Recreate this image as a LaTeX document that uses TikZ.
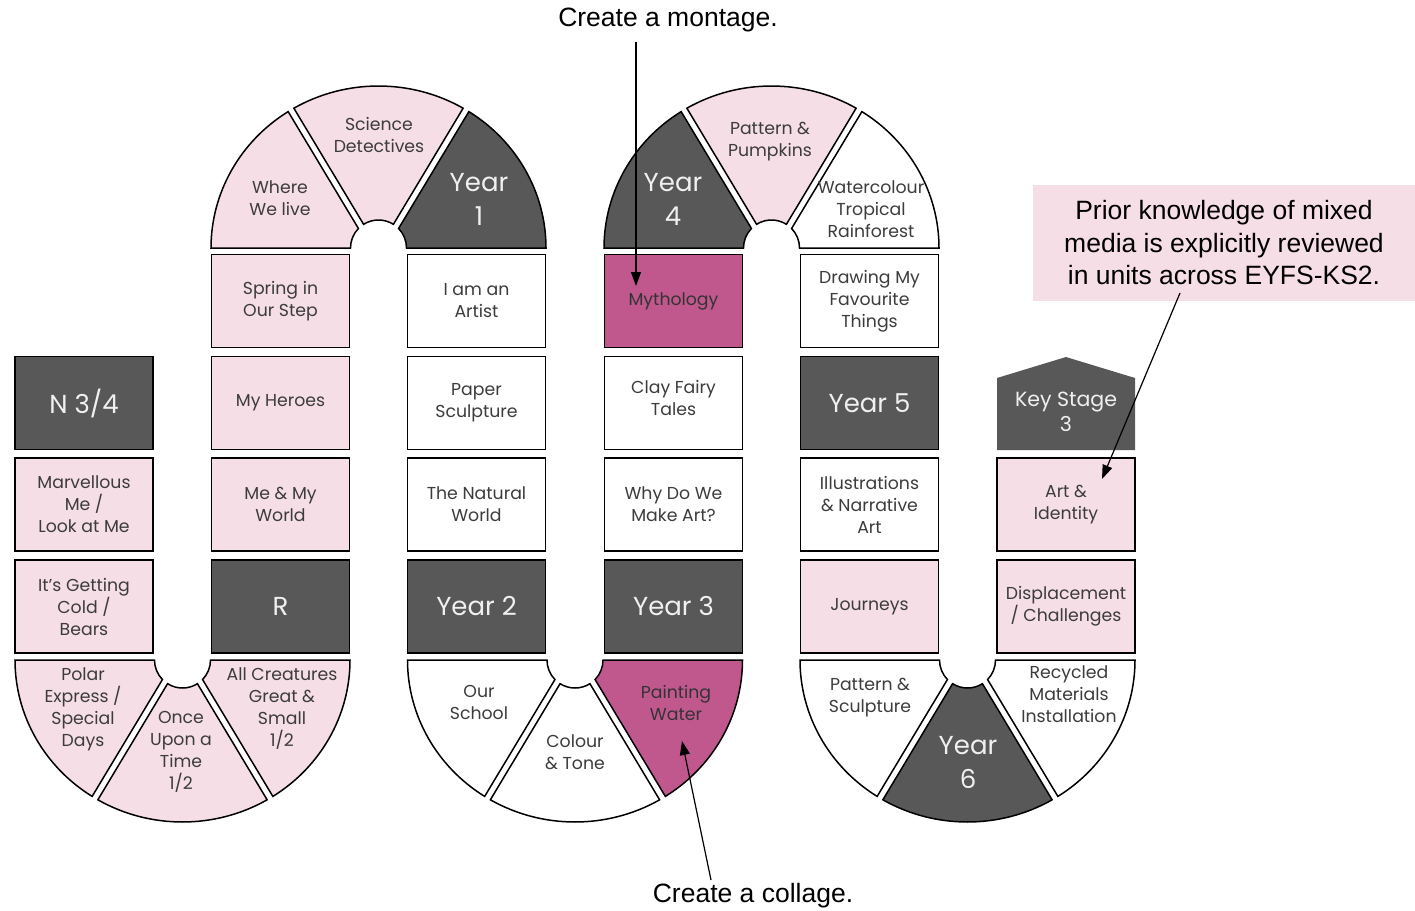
\documentclass[tikz,border=0pt]{standalone}
\usepackage{fontspec}
\setmainfont{Poppins}
\newfontfamily\annfont{Liberation Sans}
\usetikzlibrary{arrows.meta,calc}
\definecolor{pk}{RGB}{246,222,231}
\definecolor{mg}{RGB}{192,88,142}
\definecolor{dk}{RGB}{88,88,88}
\definecolor{tx}{RGB}{60,60,60}
\definecolor{lt}{RGB}{240,240,240}
\newcommand\ringpiece[7]{%
  \filldraw[piece,#7,shift={(#1,#2)}] (#3:167.5 and 162) arc[start angle=#3, end angle=#4, x radius=167.5, y radius=162] -- (#6:28) arc[start angle=#6, end angle=#5, radius=28] -- cycle;}
\begin{document}
\begin{tikzpicture}[x=1pt,y=-1pt,
  cell/.style={draw=black, line width=1.5pt, minimum width=138pt, minimum height=93pt, inner sep=0pt, align=center, font=\fontsize{17.3}{22}\selectfont, text=tx},
  pinkcell/.style={cell, fill=pk},
  whitecell/.style={cell, fill=white},
  magcell/.style={cell, fill=mg, text=black!80},
  darkcell/.style={cell, fill=dk, text=lt, font=\fontsize{26}{34}\selectfont},
  piece/.style={draw=black, line width=1.5pt},
  lbl/.style={align=center, inner sep=0pt, font=\fontsize{17.3}{22}\selectfont, text=tx},
  darklbl/.style={lbl, text=lt, font=\fontsize{26}{34}\selectfont},
  ann/.style={font=\annfont\fontsize{26.5}{32.5}\selectfont, inner sep=0pt, align=center, text=black},
  arr/.style={-{Triangle[length=14pt,width=10pt]}, line width=1.2pt, draw=black}]
\useasboundingbox (0,0) rectangle (1415,910);

% ---- arc pieces ----
% bottom A-B
\ringpiece{182.5}{660}{122.65}{180}{135.8}{180}{fill=pk}
\ringpiece{182.5}{660}{59.65}{120.35}{57.8}{122.2}{fill=pk}
\ringpiece{182.5}{660}{0}{57.35}{0}{44.2}{fill=pk}
% top B-C
\ringpiece{378.5}{248}{180}{237.35}{180}{224.2}{fill=pk}
\ringpiece{378.5}{248}{239.65}{300.35}{237.8}{302.2}{fill=pk}
\ringpiece{378.5}{248}{302.65}{360}{315.8}{360}{fill=dk}
% bottom C-D
\ringpiece{575}{660}{122.65}{180}{135.8}{180}{fill=white}
\ringpiece{575}{660}{59.65}{120.35}{57.8}{122.2}{fill=white}
\ringpiece{575}{660}{0}{57.35}{0}{44.2}{fill=mg}
% top D-E
\ringpiece{771.5}{248}{180}{237.35}{180}{224.2}{fill=dk}
\ringpiece{771.5}{248}{239.65}{300.35}{237.8}{302.2}{fill=pk}
\ringpiece{771.5}{248}{302.65}{360}{315.8}{360}{fill=white}
% bottom E-F
\ringpiece{967.5}{660}{122.65}{180}{135.8}{180}{fill=white}
\ringpiece{967.5}{660}{59.65}{120.35}{57.8}{122.2}{fill=dk}
\ringpiece{967.5}{660}{0}{57.35}{0}{44.2}{fill=white}

% ---- piece labels ----
\node[lbl] (polar) at (83,709) {Polar\\Express /\\Special\\Days};
\node[lbl] (once) at (181,752) {Once\\Upon a\\Time\\1/2};
\node[lbl] (creatures) at (282,709) {All Creatures\\Great \&\\Small\\1/2};
\node[lbl] (where) at (280,198) {Where\\We live};
\node[lbl] (science) at (379,135) {Science\\Detectives};
\node[darklbl] (y1) at (479,199) {Year\\1};
\node[darklbl] (y4) at (673,199) {Year\\4};
\node[lbl] (pumpkins) at (770,142) {Pattern \&\\Pumpkins};
\node[lbl] (watercolour) at (871,209) {Watercolour\\Tropical\\Rainforest};
\node[lbl] (school) at (479,702) {Our\\School};
\node[lbl] (colour) at (575,752) {Colour\\\& Tone};
\node[lbl, text=black!80] (painting) at (676,703) {Painting\\Water};
\node[lbl] (patsculpt) at (870,698) {Pattern \&\\Sculpture};
\node[darklbl] (y6) at (968,762) {Year\\6};
\node[lbl] (recycled) at (1069,694) {Recycled\\Materials\\Installation};

% ---- boxes ----
% column A
\node[darkcell] (n34) at (84,403) {N 3/4};
\node[pinkcell] (marv) at (84,504.5) {Marvellous\\Me /\\Look at Me};
\node[pinkcell] (cold) at (84,606.5) {It's Getting\\Cold /\\Bears};
% column B
\node[pinkcell] (spring) at (280.5,301) {Spring in\\Our Step};
\node[pinkcell] (heroes) at (280.5,403) {My Heroes};
\node[pinkcell] (meworld) at (280.5,504.5) {Me \& My\\World};
\node[darkcell] (rec) at (280.5,606.5) {R};
% column C
\node[whitecell] (artist) at (476.5,301) {I am an\\Artist};
\node[whitecell] (paper) at (476.5,403) {Paper\\Sculpture};
\node[whitecell] (natural) at (476.5,504.5) {The Natural\\World};
\node[darkcell] (y2) at (476.5,606.5) {Year 2};
% column D
\node[magcell] (myth) at (673.5,301) {Mythology};
\node[whitecell] (clay) at (673.5,403) {};
\node[lbl] (claytext) at (673.5,398) {Clay Fairy\\Tales};
\node[whitecell] (why) at (673.5,504.5) {Why Do We\\Make Art?};
\node[darkcell] (y3) at (673.5,606.5) {Year 3};
% column E
\node[whitecell] (drawing) at (869.5,301) {Drawing My\\Favourite\\Things};
\node[darkcell] (y5) at (869.5,403) {Year 5};
\node[whitecell] (illus) at (869.5,504.5) {Illustrations\\\& Narrative\\Art};
\node[pinkcell] (journeys) at (869.5,606.5) {Journeys};
% column F
\fill[dk] (997,450) -- (997,378) -- (1066,357) -- (1135,378) -- (1135,450) -- cycle;
\node[lbl, text=lt, font=\fontsize{20.5}{25}\selectfont] (ks3) at (1066,412) {Key Stage\\3};
\node[pinkcell] (identity) at (1066,504.5) {Art \&\\Identity};
\node[pinkcell] (displace) at (1066,606.5) {Displacement\\/ Challenges};

% ---- annotations ----
\node[ann] (montage) at (668,20) {Create a montage.};
\node[ann] (collage) at (753,896) {Create a collage.};
\node[ann, fill=pk, minimum width=382pt, minimum height=116pt] (callout) at (1224,243) {Prior knowledge of mixed\\media is explicitly reviewed\\in units across EYFS-KS2.};
\coordinate (mtip) at (636,286);
\coordinate (ctip) at (682,741);
\coordinate (cstart) at (711,880);
\coordinate (kstart) at (1180,293);
\coordinate (ktip) at (1102,479);
\draw[arr] (montage.south -| mtip) ++(0,10) -- (mtip);
\draw[arr] (cstart) -- (ctip);
\draw[arr] (kstart) -- (ktip);
\end{tikzpicture}
\end{document}
